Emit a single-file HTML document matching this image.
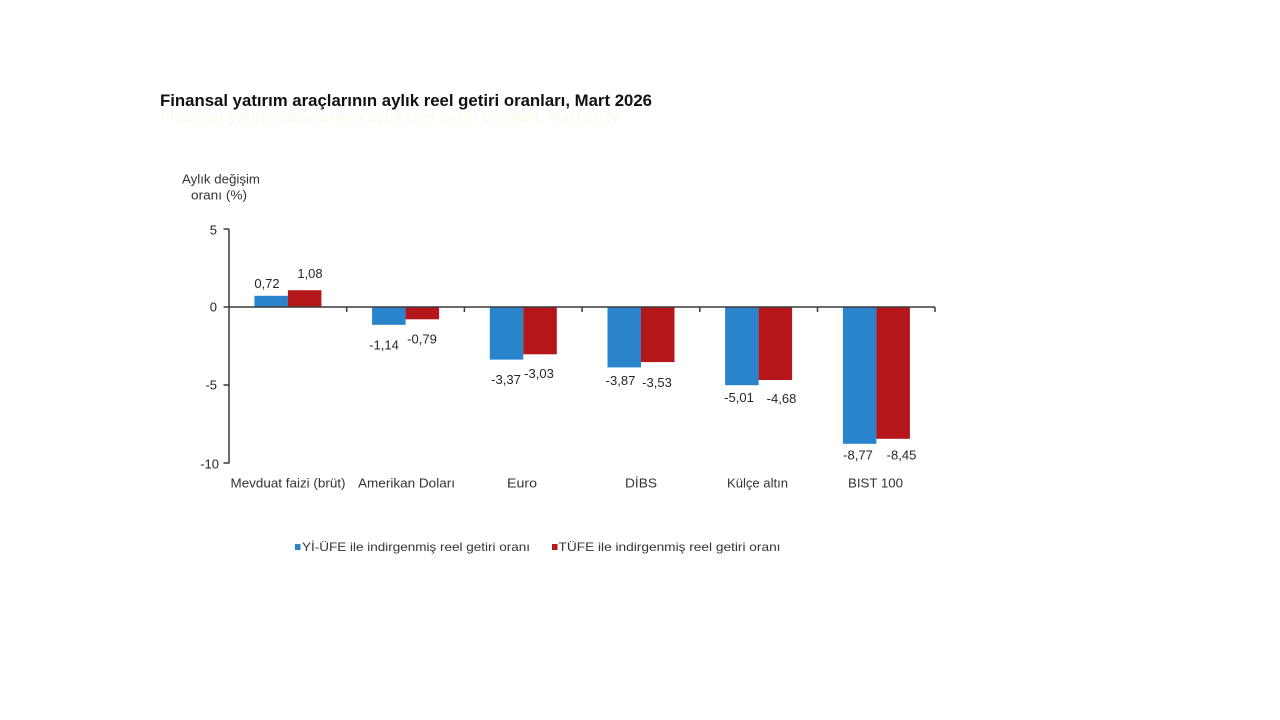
<!DOCTYPE html>
<html>
<head>
<meta charset="utf-8">
<style>
  html, body { margin:0; padding:0; background:#ffffff; }
  svg { display:block; }
  text { font-family: "Liberation Sans", "DejaVu Sans", sans-serif; }
</style>
</head>
<body>
<svg width="1280" height="720" viewBox="0 0 1280 720" xmlns="http://www.w3.org/2000/svg">
  <rect width="1280" height="720" fill="#ffffff"/>

  <!-- faint ghost line under title -->
  <text x="160" y="122" font-size="16" font-weight="bold" fill="#fbfbef" textLength="460" lengthAdjust="spacingAndGlyphs">Finansal yatırım araçlarının aylık reel getiri oranları, Mart 2026</text>

  <!-- Title -->
  <text x="160" y="106" font-size="17" font-weight="bold" fill="#111111" textLength="492" lengthAdjust="spacingAndGlyphs">Finansal yatırım araçlarının aylık reel getiri oranları, Mart 2026</text>

  <!-- Y axis title -->
  <text x="221" y="183.5" font-size="13" fill="#333333" text-anchor="middle" textLength="78" lengthAdjust="spacingAndGlyphs">Aylık değişim</text>
  <text x="219" y="199.5" font-size="13" fill="#333333" text-anchor="middle" textLength="56" lengthAdjust="spacingAndGlyphs">oranı (%)</text>

  <!-- Bars -->
  <g>
    <rect x="254.4" y="295.8" width="33.5" height="11.2" fill="#2a84cc"/>
    <rect x="287.9" y="290.2" width="33.5" height="16.8" fill="#b5161a"/>
    <rect x="372.1" y="307" width="33.5" height="17.8" fill="#2a84cc"/>
    <rect x="405.6" y="307" width="33.5" height="12.3" fill="#b5161a"/>
    <rect x="489.8" y="307" width="33.5" height="52.6" fill="#2a84cc"/>
    <rect x="523.3" y="307" width="33.5" height="47.3" fill="#b5161a"/>
    <rect x="607.5" y="307" width="33.5" height="60.4" fill="#2a84cc"/>
    <rect x="641.0" y="307" width="33.5" height="55.1" fill="#b5161a"/>
    <rect x="725.1" y="307" width="33.5" height="78.2" fill="#2a84cc"/>
    <rect x="758.6" y="307" width="33.5" height="73.0" fill="#b5161a"/>
    <rect x="842.9" y="307" width="33.5" height="136.8" fill="#2a84cc"/>
    <rect x="876.4" y="307" width="33.5" height="131.8" fill="#b5161a"/>
  </g>

  <!-- Axes -->
  <g stroke="#3a3a3a" stroke-width="1.5" fill="none">
    <line x1="229" y1="229" x2="229" y2="463.5"/>
    <line x1="223.5" y1="229" x2="229" y2="229"/>
    <line x1="223.5" y1="307" x2="229" y2="307"/>
    <line x1="223.5" y1="385" x2="229" y2="385"/>
    <line x1="223.5" y1="463" x2="229" y2="463"/>
    <line x1="229" y1="307" x2="935" y2="307"/>
    <line x1="346.7" y1="307" x2="346.7" y2="312"/>
    <line x1="464.4" y1="307" x2="464.4" y2="312"/>
    <line x1="582.1" y1="307" x2="582.1" y2="312"/>
    <line x1="699.8" y1="307" x2="699.8" y2="312"/>
    <line x1="817.5" y1="307" x2="817.5" y2="312"/>
    <line x1="935" y1="307" x2="935" y2="312"/>
  </g>

  <!-- Y tick labels -->
  <g font-size="13" fill="#262626" text-anchor="end">
    <text x="217" y="234.5">5</text>
    <text x="217" y="311.5">0</text>
    <text x="217" y="389.5">-5</text>
    <text x="219" y="468.5">-10</text>
  </g>

  <!-- Value labels -->
  <g font-size="13" fill="#262626" text-anchor="middle">
    <text x="267" y="287.8">0,72</text>
    <text x="310" y="277.8">1,08</text>
    <text x="384" y="349.5">-1,14</text>
    <text x="422" y="343.5">-0,79</text>
    <text x="506" y="383.8">-3,37</text>
    <text x="539" y="377.8">-3,03</text>
    <text x="620.5" y="385.2">-3,87</text>
    <text x="657" y="387.2">-3,53</text>
    <text x="739" y="402.2">-5,01</text>
    <text x="781.5" y="402.8">-4,68</text>
    <text x="858" y="459.5">-8,77</text>
    <text x="901.5" y="459.5">-8,45</text>
  </g>

  <!-- Category labels -->
  <g font-size="13" fill="#333333" text-anchor="middle">
    <text x="288" y="487.5" textLength="115" lengthAdjust="spacingAndGlyphs">Mevduat faizi (brüt)</text>
    <text x="406.5" y="487.5" textLength="97" lengthAdjust="spacingAndGlyphs">Amerikan Doları</text>
    <text x="522" y="487.5" textLength="30" lengthAdjust="spacingAndGlyphs">Euro</text>
    <text x="641" y="487.5" textLength="32" lengthAdjust="spacingAndGlyphs">DİBS</text>
    <text x="757.5" y="487.5" textLength="61" lengthAdjust="spacingAndGlyphs">Külçe altın</text>
    <text x="875.5" y="487.5" textLength="55" lengthAdjust="spacingAndGlyphs">BIST 100</text>
  </g>

  <!-- Legend -->
  <rect x="295" y="544" width="5.5" height="6" fill="#2a84cc"/>
  <text x="302" y="551" font-size="12" fill="#333333" textLength="228" lengthAdjust="spacingAndGlyphs">Yİ-ÜFE ile indirgenmiş reel getiri oranı</text>
  <rect x="552" y="544" width="5.5" height="6" fill="#b5161a"/>
  <text x="558.5" y="551" font-size="12" fill="#333333" textLength="222" lengthAdjust="spacingAndGlyphs">TÜFE ile indirgenmiş reel getiri oranı</text>
</svg>
</body>
</html>
